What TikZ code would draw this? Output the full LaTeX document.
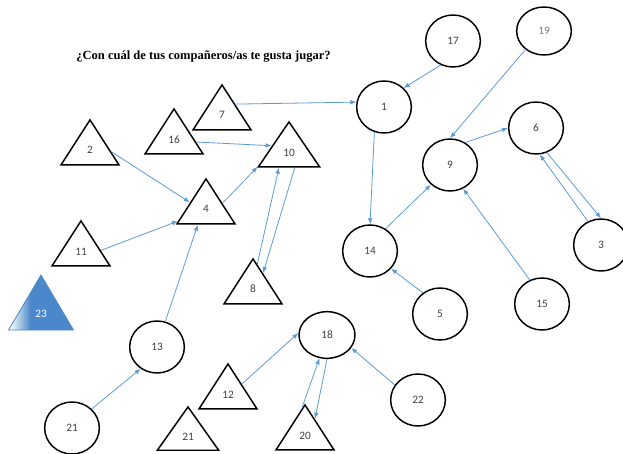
\documentclass[tikz,border=0pt]{standalone}
\usepackage{fontspec}
\setmainfont{Liberation Serif}
\newfontfamily\etiq{Carlito}
\usetikzlibrary{shapes.geometric,arrows.meta}
\definecolor{azul}{RGB}{91,155,213}
\definecolor{azulfondo}{RGB}{74,135,203}
\definecolor{gris}{RGB}{64,64,64}
\pgfdeclarehorizontalshading{sombra}{100bp}{color(0bp)=(white); color(26bp)=(white); color(42bp)=(azulfondo); color(100bp)=(azulfondo)}

\begin{document}
\begin{tikzpicture}[x=0.75pt,y=0.75pt,yscale=-1,xscale=1,
	nina/.style={ellipse,draw,line width=1.1pt,minimum width=41pt,minimum height=39pt,inner sep=0pt,text=gris,font=\etiq\fontsize{8.5}{10}\selectfont},
	nino/.style={isosceles triangle,isosceles triangle stretches,shape border rotate=90,draw,line width=1.1pt,minimum width=43.5pt,minimum height=33.75pt,inner sep=0pt,anchor=apex,text=gris,font=\etiq\fontsize{8.5}{10}\selectfont},
	flecha/.style={draw=azul,line width=0.6pt,-{Latex[length=4.5pt,width=3.5pt]}}]
	\useasboundingbox (0,0) rectangle (623,453);
	\node[font=\bfseries\fontsize{9.4}{11}\selectfont] (titulo) at (203.5,57) {¿Con cuál de tus compañeros/as te gusta jugar?};
	\node[nina] (c17) at (453,41) {17};
	\node[nina,minimum height=36pt,text=gris!70] (c19) at (544,31) {19};
	\node[nina] (c1) at (384,107) {1};
	\node[nina] (c9) at (450,165) {9};
	\node[nina] (c14) at (370,251) {14};
	\node[nina] (c6) at (536,128) {6};
	\node[nina] (c3) at (601,245) {3};
	\node[nina] (c5) at (440,314) {5};
	\node[nina] (c15) at (542,304) {15};
	\node[nina,minimum width=42pt,minimum height=35pt] (c18) at (327,335) {18};
	\node[nina] (c22) at (418,400) {22};
	\node[nina] (c13) at (157,347) {13};
	\node[nina] (c21) at (72,428) {21};
	\node[nino] (t7) at (222,83) {7};
	\node[nino,minimum width=46pt] (t10) at (289,120) {10};
	\node[nino] (t16) at (174,107) {16};
	\node[nino] (t2) at (90,118) {2};
	\node[nino] (t4) at (206,177) {4};
	\node[nino] (t11) at (81,219) {11};
	\node[nino] (t8) at (253,257) {8};
	\node[nino] (t12) at (228,362) {12};
	\node[nino,minimum width=46pt,minimum height=32.5pt] (t21) at (188,405) {21};
	\node[nino] (t20) at (305,403) {20};
	\node[nino,minimum width=48.75pt,minimum height=41.25pt,draw=azulfondo,line width=0.6pt,shade,shading=sombra,text=white] (t23) at (41,274) {23};
	\draw[flecha] (c17.243) -- (c1.44);
	\draw[flecha] (c19.225) -- (c9.north);
	\draw[flecha] (t7.38) -- (c1.170);
	\draw[flecha] (c1.249) -- (c14.north);
	\draw[flecha] (c14.55) -- (c9.226);
	\draw[flecha] (c9.56) -- (c6.west);
	\draw[flecha] (c6.294) -- (c3.north);
	\draw[flecha] (c3.119) -- (c6.278);
	\draw[flecha] (c15.117) -- (c9.299);
	\draw[flecha] (c5.129) -- (c14.320);
	\draw[flecha] (t16.355) -- (t10.158);
	\draw[flecha] (t2.354) -- (t4.159);
	\draw[flecha] (t11.5) -- (t4.204);
	\draw[flecha] (c13.72) -- (t4.243);
	\draw[flecha] (t4.18) -- (t10.204);
	\draw[flecha] (t8.80) -- (t10.236);
	\draw[flecha] (t10.291) -- (t8.57);
	\draw[flecha] (c21.44) -- (c13.233);
	\draw[flecha] (t12.39) -- (c18.176);
	\draw[flecha] (t20.96) -- (c18.252);
	\draw[flecha] (c18.270) -- (t20.60);
	\draw[flecha] (c22.147) -- (c18.332);
\end{tikzpicture}
\end{document}
